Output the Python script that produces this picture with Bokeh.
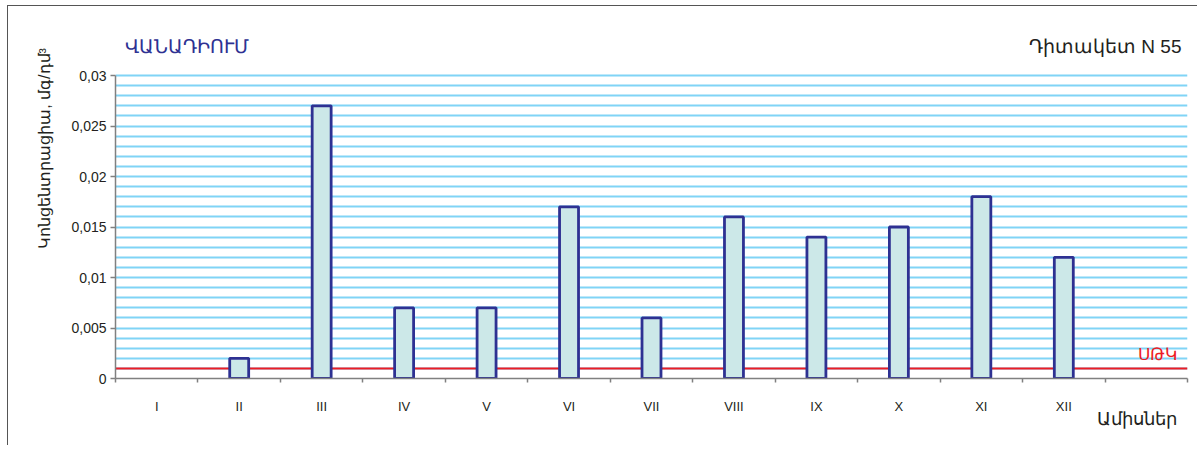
import numpy as np
from bokeh.plotting import figure
from bokeh.models import (Range1d, LinearAxis, FixedTicker,
                          CustomJSTickFormatter, Span, Label, ColumnDataSource)
from bokeh.embed import file_html
from bokeh.resources import INLINE

# ---- data ----
months = ["I", "II", "III", "IV", "V", "VI", "VII", "VIII", "IX", "X", "XI", "XII"]
values = [np.nan, 0.002, 0.027, 0.007, 0.007, 0.017, 0.006, 0.016, 0.014, 0.015, 0.018, 0.012]
limit_value = 0.001
y_max = 0.03
y_ticks = [0, 0.005, 0.01, 0.015, 0.02, 0.025, 0.03]
title_left = "ՎԱՆԱԴԻՈՒՄ"
title_right = "Դիտակետ N 55"
x_title = "Ամիսներ"
y_title = "Կոնցենտրացիա, մգ/դմ³"
limit_label = "ՍԹԿ"

n_slots = len(months) + 1  # one empty slot on the right
centers = [i + 0.5 for i in range(len(months))]

# ---- layout (pixels, canvas coordinates) ----
W, H = 1190, 440
FRAME_LEFT, FRAME_RIGHT, FRAME_BOTTOM = 107, 1179, 372
PLOT_H = 303            # pixel height of the 0..y_max band
FRAME_H = FRAME_BOTTOM  # frame reaches the canvas top (room for the header texts)
y_end = y_max * FRAME_H / PLOT_H
px_per_slot = (FRAME_RIGHT - FRAME_LEFT) / n_slots

# screen positions of the axis titles, converted through the scales
y_title_pos = (FRAME_BOTTOM - 142) / PLOT_H * y_max
x_title_pos = (1128 - FRAME_LEFT) / px_per_slot

FONT = "Liberation Sans"
DARK = "#231F20"
BLUE = "#2E3192"
GREY = "#808080"
RED = "#ED1C24"

p = figure(width=W, height=H, x_range=Range1d(0, n_slots), y_range=Range1d(0, y_end),
           x_axis_location=None, y_axis_location=None, title=None,
           output_backend="svg", toolbar_location=None,
           min_border_left=FRAME_LEFT, min_border_right=W - FRAME_RIGHT,
           min_border_top=0, min_border_bottom=H - FRAME_BOTTOM)
p.outline_line_color = None
p.background_fill_color = "white"
p.border_fill_color = "white"
p.styles = {"margin-left": "7px", "margin-top": "5px",
            "border-top": "1px solid #555555", "border-left": "1px solid #555555"}

# y axis
yax = LinearAxis(ticker=FixedTicker(ticks=y_ticks), bounds=(0, y_max))
yax.formatter = CustomJSTickFormatter(code="return (Math.round(tick*1000)/1000).toString().replace('.', ',');")
yax.axis_line_color = GREY
yax.axis_line_width = 1.5
yax.major_tick_line_color = GREY
yax.major_tick_line_width = 1.5
yax.major_tick_out = 5
yax.major_tick_in = 0
yax.minor_tick_line_color = None
yax.major_label_text_font = FONT
yax.major_label_text_font_size = "14px"
yax.major_label_text_color = DARK
yax.major_label_standoff = 4
p.add_layout(yax, "left")

# y title: a tick-less axis carrying one vertical label
ytitle_ax = LinearAxis(ticker=FixedTicker(ticks=[y_title_pos]))
ytitle_ax.formatter = CustomJSTickFormatter(args=dict(t=y_title), code="return t;")
ytitle_ax.axis_line_color = None
ytitle_ax.major_tick_line_color = None
ytitle_ax.minor_tick_line_color = None
ytitle_ax.major_label_orientation = "vertical"
ytitle_ax.major_label_text_font = FONT
ytitle_ax.major_label_text_font_size = "16px"
ytitle_ax.major_label_text_color = DARK
ytitle_ax.major_label_standoff = 10
p.add_layout(ytitle_ax, "left")

# x axis: boundary ticks
tick_ax = LinearAxis(ticker=FixedTicker(ticks=list(range(n_slots + 1))))
tick_ax.formatter = CustomJSTickFormatter(code="return '';")
tick_ax.axis_line_color = GREY
tick_ax.axis_line_width = 1.5
tick_ax.major_tick_line_color = GREY
tick_ax.major_tick_line_width = 1.5
tick_ax.major_tick_out = 4
tick_ax.major_tick_in = 0
tick_ax.minor_tick_line_color = None
tick_ax.major_label_text_font_size = "1px"
tick_ax.major_label_standoff = 0
p.add_layout(tick_ax, "below")

# x axis: month labels at slot centres
lab_ax = LinearAxis(ticker=FixedTicker(ticks=centers))
lab_ax.formatter = CustomJSTickFormatter(args=dict(months=months),
                                         code="return months[Math.floor(tick)];")
lab_ax.axis_line_color = None
lab_ax.major_tick_line_color = None
lab_ax.minor_tick_line_color = None
lab_ax.major_label_text_font = FONT
lab_ax.major_label_text_font_size = "13px"
lab_ax.major_label_text_color = DARK
lab_ax.major_label_standoff = 10
p.add_layout(lab_ax, "below")

# x title: a tick-less axis carrying one label
xtitle_ax = LinearAxis(ticker=FixedTicker(ticks=[x_title_pos]))
xtitle_ax.formatter = CustomJSTickFormatter(args=dict(t=x_title), code="return t;")
xtitle_ax.axis_line_color = None
xtitle_ax.major_tick_line_color = None
xtitle_ax.minor_tick_line_color = None
xtitle_ax.major_label_text_font = FONT
xtitle_ax.major_label_text_font_size = "18px"
xtitle_ax.major_label_text_color = DARK
xtitle_ax.major_label_standoff = -14
p.add_layout(xtitle_ax, "below")

# grid
p.xgrid.grid_line_color = None
p.ygrid.ticker = FixedTicker(ticks=[round(v, 3) for v in np.arange(0.001, y_max + 0.0005, 0.001)])
p.ygrid.grid_line_color = "#80D4F6"
p.ygrid.grid_line_width = 2

# limit line
p.add_layout(Span(location=limit_value, dimension="width", line_color=RED,
                  line_width=2, level="underlay"))

src = ColumnDataSource(dict(x=centers, month=months, value=values))
p.vbar(x="x", top="value", bottom=0, width=0.23, source=src,
       fill_color="#CCE8E8", line_color=BLUE, line_width=2.8)

# header texts and limit label (inside the frame, canvas units)
def lab(x, y, text, size, color, align):
    p.add_layout(Label(x=x, y=y, x_units="canvas", y_units="canvas", text=text,
                       text_font=FONT, text_font_size=size, text_color=color,
                       text_baseline="middle", text_align=align))

lab(115, 39, title_left, "19px", BLUE, "left")
lab(1172, 39, title_right, "19px", DARK, "right")
lab(1167, 347, limit_label, "17px", RED, "right")

open("out.html", "w").write(file_html(p, INLINE))
